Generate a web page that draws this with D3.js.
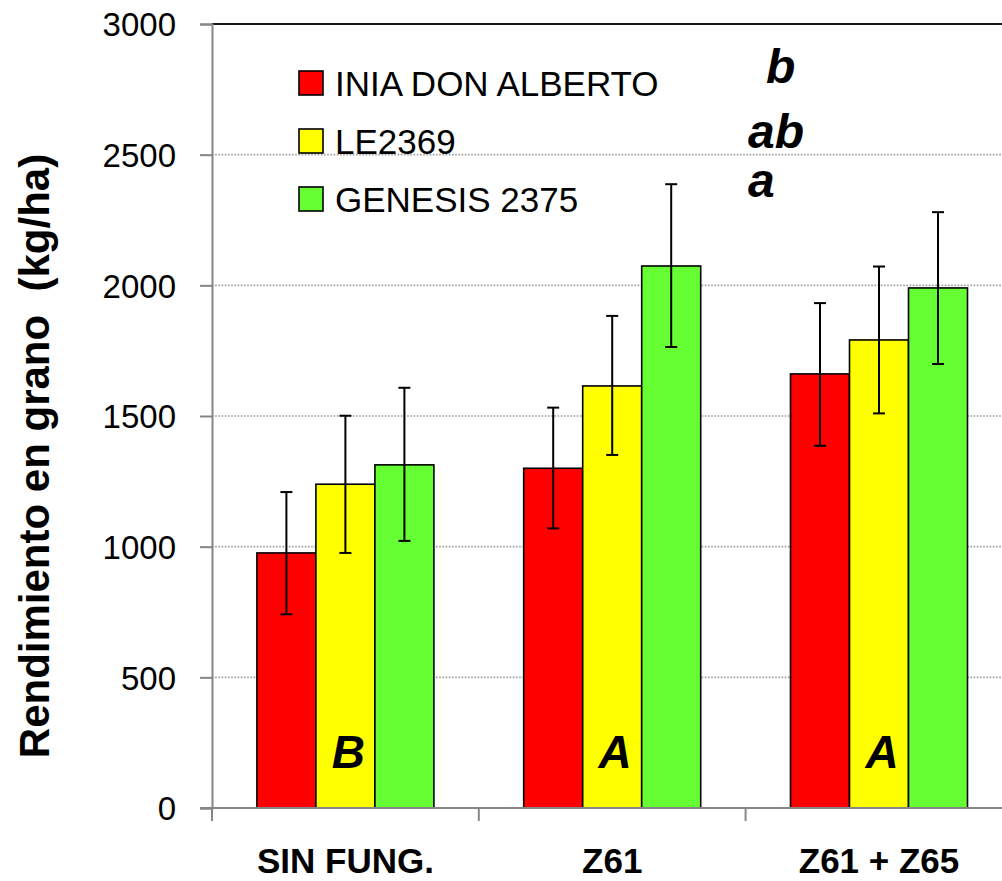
<!DOCTYPE html>
<html>
<head>
<meta charset="utf-8">
<script src="https://cdn.jsdelivr.net/npm/d3@7"></script>
<style>
  html, body { margin: 0; padding: 0; background: #fff; }
  svg { display: block; }
  text { font-family: "Liberation Sans", Arial, sans-serif; fill: #000; }
</style>
</head>
<body>
<svg id="chart" width="1002" height="881"></svg>
<script>
// ---- data ----
const categories = ["SIN FUNG.", "Z61", "Z61 + Z65"];
const series = ["INIA DON ALBERTO", "LE2369", "GENESIS 2375"];
const seriesColors = ["#FF0000", "#FFFF00", "#66FF33"];
const iniaValues = [976, 1300, 1661];
const le2369Values = [1239, 1615, 1791];
const genesisValues = [1313, 2074, 1990];
const iniaLow = [741, 1070, 1386];
const iniaHigh = [1209, 1532, 1932];
const le2369Low = [976, 1351, 1510];
const le2369High = [1501, 1883, 2072];
const genesisLow = [1022, 1764, 1699];
const genesisHigh = [1608, 2387, 2280];
const yTicks = [0, 500, 1000, 1500, 2000, 2500, 3000];
const groupLetters = ["B", "A", "A"];
const varietyLetters = ["b", "ab", "a"];

const valuesBySeries = [iniaValues, le2369Values, genesisValues];
const lowBySeries = [iniaLow, le2369Low, genesisLow];
const highBySeries = [iniaHigh, le2369High, genesisHigh];

const rows = [];
categories.forEach((c, ci) => {
  series.forEach((s, si) => {
    rows.push({cat: c, ser: s, si, value: valuesBySeries[si][ci], low: lowBySeries[si][ci], high: highBySeries[si][ci]});
  });
});

// ---- layout ----
const svg = d3.select("#chart");
const plotLeft = 212, plotTop = 24, plotBottom = 808, plotRight = 1012.4;

const y = d3.scaleLinear().domain([0, 3000]).range([plotBottom, plotTop]);
const x0 = d3.scaleBand().domain(categories).range([plotLeft, plotRight]).paddingInner(0).paddingOuter(0);
const x1 = d3.scaleBand().domain(series).range([0, x0.bandwidth()]).paddingInner(0).paddingOuter(0.761);

// gridlines
const grid = svg.append("g");
grid.selectAll("line").data(yTicks.filter(t => t > 0)).join("line")
  .attr("x1", plotLeft).attr("x2", 1002)
  .attr("y1", d => y(d)).attr("y2", d => y(d))
  .attr("stroke", d => d === 3000 ? "#1a1a1a" : "#9a9a9a")
  .attr("stroke-width", d => d === 3000 ? 2.2 : 1.6)
  .attr("stroke-dasharray", d => d === 3000 ? null : "1.6,1.6");

// y axis
const yAxis = svg.append("g").attr("transform", `translate(${plotLeft},0)`)
  .call(d3.axisLeft(y).tickValues(yTicks).tickSize(12).tickPadding(24).tickFormat(d3.format("d")));
yAxis.select(".domain").attr("stroke", "#868686").attr("stroke-width", 2);
yAxis.selectAll(".tick line").attr("stroke", "#868686").attr("stroke-width", 2);
yAxis.selectAll(".tick text").style("font-size", "33px").style("font-family", "Liberation Sans, Arial, sans-serif").attr("fill", "#000").attr("dy", "0.36em");

// x axis
const xAxisG = svg.append("g");
xAxisG.append("line").attr("x1", 200).attr("x2", 1002).attr("y1", plotBottom).attr("y2", plotBottom)
  .attr("stroke", "#868686").attr("stroke-width", 2);
xAxisG.selectAll("line.xt").data(categories).join("line").attr("class", "xt")
  .attr("x1", d => x0(d)).attr("x2", d => x0(d))
  .attr("y1", plotBottom).attr("y2", plotBottom + 13)
  .attr("stroke", "#868686").attr("stroke-width", 2);
const xAxis = svg.append("g").attr("transform", `translate(0,${plotBottom})`)
  .call(d3.axisBottom(x0).tickSize(0).tickPadding(0));
xAxis.select(".domain").remove();
xAxis.selectAll(".tick text").style("font-size", "35px").style("font-weight", "bold")
  .style("font-family", "Liberation Sans, Arial, sans-serif").attr("fill", "#000")
  .attr("dy", null).attr("y", 65);

// bars
const barsG = svg.append("g");
barsG.selectAll("rect").data(rows).join("rect")
  .attr("x", d => x0(d.cat) + x1(d.ser))
  .attr("y", d => y(d.value))
  .attr("width", x1.bandwidth())
  .attr("height", d => y(0) - y(d.value))
  .attr("fill", d => seriesColors[d.si])
  .attr("stroke", "#000").attr("stroke-width", 1.6);

// redraw bottom axis line over bar bottoms
xAxisG.raise();

// error bars
const errG = svg.append("g");
const cx = d => x0(d.cat) + x1(d.ser) + x1.bandwidth() / 2;
errG.selectAll("line.v").data(rows).join("line").attr("class", "v")
  .attr("x1", cx).attr("x2", cx).attr("y1", d => y(d.low)).attr("y2", d => y(d.high))
  .attr("stroke", "#000").attr("stroke-width", 2);
errG.selectAll("line.t").data(rows).join("line").attr("class", "t")
  .attr("x1", d => cx(d) - 6).attr("x2", d => cx(d) + 6).attr("y1", d => y(d.high)).attr("y2", d => y(d.high))
  .attr("stroke", "#000").attr("stroke-width", 2);
errG.selectAll("line.b").data(rows).join("line").attr("class", "b")
  .attr("x1", d => cx(d) - 6).attr("x2", d => cx(d) + 6).attr("y1", d => y(d.low)).attr("y2", d => y(d.low))
  .attr("stroke", "#000").attr("stroke-width", 2);

// group letters (B, A, A)
svg.append("g").selectAll("text").data(categories).join("text")
  .attr("x", (d, i) => x0(d) + x0.bandwidth() / 2 + 3)
  .attr("y", 768)
  .attr("text-anchor", "middle")
  .style("font-size", "46px").style("font-weight", "bold").style("font-style", "italic")
  .text((d, i) => groupLetters[i]);

// legend
const legend = svg.append("g");
const legendItems = legend.selectAll("g").data(series).join("g")
  .attr("transform", (d, i) => `translate(299,${71 + i * 58})`);
legendItems.append("rect").attr("width", 24).attr("height", 24)
  .attr("fill", (d, i) => seriesColors[i]).attr("stroke", "#000").attr("stroke-width", 1.6);
legendItems.append("text").attr("x", 36).attr("y", 25)
  .style("font-size", "35px").text(d => d);

// variety letters (b, ab, a)
const varX = [766, 748, 748];
const varY = [83, 148, 197];
svg.append("g").selectAll("text").data(varietyLetters).join("text")
  .attr("x", (d, i) => varX[i]).attr("y", (d, i) => varY[i])
  .style("font-size", "48px").style("font-weight", "bold").style("font-style", "italic")
  .text(d => d);

// y title
svg.append("text")
  .attr("transform", "translate(49,456) rotate(-90)")
  .attr("text-anchor", "middle")
  .style("font-size", "42px").style("font-weight", "bold")
  .attr("xml:space", "preserve")
  .style("white-space", "pre")
  .text("Rendimiento en grano  (kg/ha)");
</script>
</body>
</html>
